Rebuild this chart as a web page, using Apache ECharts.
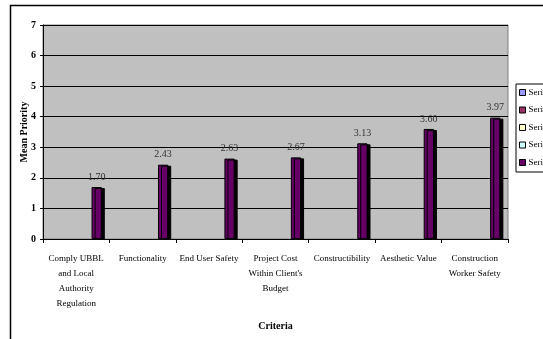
<!DOCTYPE html>
<html>
<head>
<meta charset="utf-8">
<script src="https://cdn.jsdelivr.net/npm/echarts@6/dist/echarts.min.js"></script>
<style>
html,body{margin:0;padding:0;background:#fff;}
#c{width:543px;height:339px;}
</style>
</head>
<body>
<div id="c"></div>
<script>
var categories = [
  "Comply UBBL\nand Local\nAuthority\nRegulation",
  "Functionality",
  "End User Safety",
  "Project Cost\nWithin Client's\nBudget",
  "Constructibility",
  "Aesthetic Value",
  "Construction\nWorker Safety"
];
var seriesNames = ["Series1", "Series2", "Series3", "Series4", "Series5"];
var seriesColors = ["#9999ff", "#993366", "#ffffcc", "#ccffff", "#660066"];
var series1 = [];
var series2 = [];
var series3 = [];
var series4 = [];
var series5 = [1.70, 2.43, 2.63, 2.67, 3.13, 3.60, 3.97];
var yTicks = [0, 1, 2, 3, 4, 5, 6, 7];

var allData = [series1, series2, series3, series4, series5];
var serif = "Liberation Serif";

var chart = echarts.init(document.getElementById('c'), null, {renderer: 'canvas'});
var seriesList = allData.map(function (d, i) {
  return {
    name: seriesNames[i],
    type: 'bar',
    data: d,
    barGap: '0%',
    barCategoryGap: '23%',
    itemStyle: {
      color: seriesColors[i],
      borderColor: '#000',
      borderWidth: 1,
      shadowColor: '#000',
      shadowOffsetX: 3,
      shadowOffsetY: 1,
      shadowBlur: 0
    },
    label: {
      show: true,
      position: 'top',
      distance: 5,
      fontFamily: serif,
      fontSize: 10,
      color: '#333',
      formatter: function (p) { return p.value.toFixed(2); }
    },
    animation: false
  };
});

chart.setOption({
  animation: false,
  graphic: [{
    type: 'rect',
    shape: {x: 10.5, y: 5.5, width: 600, height: 400},
    style: {fill: 'none', stroke: '#000', lineWidth: 1.5},
    silent: true
  }],
  grid: {
    left: 43, right: 35, top: 25, bottom: 100,
    show: true,
    backgroundColor: '#c0c0c0',
    borderColor: '#808080',
    borderWidth: 1
  },
  legend: {
    orient: 'vertical',
    left: 516, top: 84,
    itemWidth: 6, itemHeight: 6, itemGap: 8.5,
    padding: [4, 4, 5, 3],
    borderColor: '#000', borderWidth: 1,
    backgroundColor: '#fff',
    icon: 'rect',
    itemStyle: {borderColor: '#000', borderWidth: 1, shadowBlur: 0, shadowOffsetX: 0, shadowOffsetY: 0},
    textStyle: {fontFamily: serif, fontSize: 9, color: '#000', padding: [0, 0, 0, -2]},
    data: seriesNames
  },
  xAxis: {
    type: 'category',
    data: categories,
    name: 'Criteria',
    nameLocation: 'middle',
    nameGap: 82,
    nameTextStyle: {fontFamily: serif, fontSize: 10, fontWeight: 'bold', color: '#000'},
    axisLine: {lineStyle: {color: '#000', width: 1}},
    axisTick: {show: true, alignWithLabel: false, length: 4, lineStyle: {color: '#000'}},
    axisLabel: {
      interval: 0,
      margin: 12,
      fontFamily: serif,
      fontSize: 9,
      lineHeight: 15,
      color: '#000'
    }
  },
  yAxis: {
    type: 'value',
    min: yTicks[0],
    max: yTicks[yTicks.length - 1],
    interval: 1,
    name: 'Mean Priority',
    nameLocation: 'middle',
    nameGap: 14,
    nameMoveOverlap: false,
    nameRotate: 90,
    nameTextStyle: {fontFamily: serif, fontSize: 10, fontWeight: 'bold', color: '#000'},
    axisLine: {show: true, lineStyle: {color: '#000', width: 1}},
    axisTick: {show: true, length: 3, lineStyle: {color: '#000'}},
    axisLabel: {margin: 7, fontFamily: serif, fontSize: 10, fontWeight: 'bold', color: '#000'},
    splitLine: {show: true, lineStyle: {color: '#000', width: 1}}
  },
  series: seriesList
});
</script>
</body>
</html>
